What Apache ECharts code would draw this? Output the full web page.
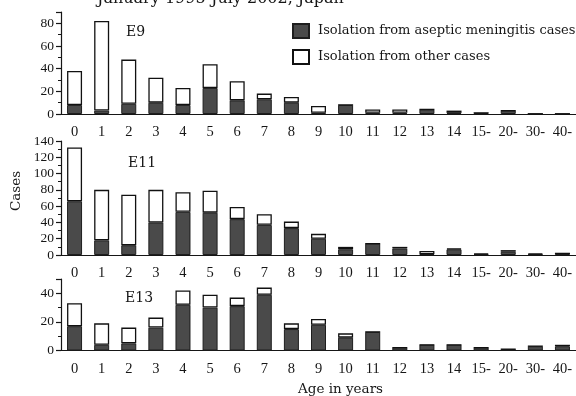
<!DOCTYPE html>
<html>
<head>
<meta charset="utf-8">
<script src="https://cdn.jsdelivr.net/npm/echarts@6/dist/echarts.min.js"></script>
<style>html,body{margin:0;padding:0;background:#fff}#c{width:576px;height:396px}</style>
</head>
<body>
<div id="c"></div>
<script>
const ageCategories = ['0','1','2','3','4','5','6','7','8','9','10','11','12','13','14','15-','20-','30-','40-'];

const e9Aseptic  = [8,3,9,10,8,23,12,13,10,1,8,1,1,4,1,1,3,0,0];
const e9Other    = [30,79,39,22,15,21,17,5,5,6,0,3,3,0,2,0,0,0,0];

const e11Aseptic = [66,18,12,40,53,52,44,37,33,20,7,14,8,1,7,1,4,1,2];
const e11Other   = [66,62,62,40,24,27,15,13,8,6,3,0,2,4,1,1,2,1,0];

const e13Aseptic = [17,4,5,16,32,30,31,39,15,18,9,13,2,4,4,2,1,3,3];
const e13Other   = [16,15,11,7,10,9,6,5,4,4,3,0,0,0,0,0,0,0,1];

const yTicksE9  = {max: 90,  interval: 20};
const yTicksE11 = {max: 140, interval: 20};
const yTicksE13 = {max: 50,  interval: 20};

const panelNames = ['E9', 'E11', 'E13'];
const seriesNames = ['Isolation from aseptic meningitis cases', 'Isolation from other cases'];
const titleText = 'January 1995-July 2002, Japan';

const serif = 'Liberation Serif';
const serif2 = 'DejaVu Serif';
const ink = '#161616';
const darkFill = '#4a4a4a';

const grids = [
  {left: 61, width: 522.5, top: 12, height: 102},
  {left: 61, width: 522.5, top: 141, height: 114},
  {left: 61, width: 522.5, top: 279, height: 71.5}
];

function xAxis(i) {
  return {
    type: 'category', gridIndex: i, data: ageCategories, boundaryGap: true,
    axisLine: {lineStyle: {color: ink, width: 1.2}},
    axisTick: {alignWithLabel: true, length: 5, lineStyle: {color: ink, width: 1.2}},
    axisLabel: {color: ink, fontFamily: serif, fontSize: 14.5, margin: 11, interval: 0}
  };
}
function yAxis(i, t) {
  return {
    type: 'value', gridIndex: i, min: 0, max: t.max, interval: t.interval,
    axisLine: {show: true, lineStyle: {color: ink, width: 1.2}},
    axisTick: {show: true, length: 5, lineStyle: {color: ink, width: 1.2}},
    minorTick: {show: true, splitNumber: 2, length: 3, lineStyle: {color: ink, width: 1}},
    splitLine: {show: false},
    axisLabel: {color: ink, fontFamily: serif, fontSize: 13.5, margin: 7,
      formatter: v => (v % t.interval === 0 ? String(v) : '')}
  };
}
function barPair(i, aseptic, other) {
  return [
    {name: seriesNames[0], type: 'bar', stack: 's' + i, xAxisIndex: i, yAxisIndex: i,
     data: aseptic, barWidth: 15, animation: false,
     itemStyle: {color: darkFill, borderColor: '#1e1e1e', borderWidth: 1}},
    {name: seriesNames[1], type: 'bar', stack: 's' + i, xAxisIndex: i, yAxisIndex: i,
     data: other, barWidth: 15, animation: false,
     itemStyle: {color: '#ffffff', borderColor: '#111', borderWidth: 1.3}}
  ];
}

const chart = echarts.init(document.getElementById('c'), null, {renderer: 'canvas'});
chart.setOption({
  backgroundColor: '#ffffff',
  animation: false,
  grid: grids,
  xAxis: [xAxis(0), xAxis(1), xAxis(2)],
  yAxis: [yAxis(0, yTicksE9), yAxis(1, yTicksE11), yAxis(2, yTicksE13)],
  legend: {
    data: seriesNames, orient: 'vertical', left: 292, top: 23, padding: 0,
    itemWidth: 16, itemHeight: 14, itemGap: 10, icon: 'rect',
    textStyle: {color: ink, fontFamily: serif2, fontSize: 13, padding: [0, 0, 0, 4]}
  },
  series: [].concat(barPair(0, e9Aseptic, e9Other), barPair(1, e11Aseptic, e11Other), barPair(2, e13Aseptic, e13Other)),
  graphic: [
    {type: 'text', left: 97, top: -9, style: {text: titleText, font: '16px "DejaVu Serif"', fill: ink}},
    {type: 'text', left: 126, top: 25, style: {text: panelNames[0], font: '14px "DejaVu Serif"', fill: ink}},
    {type: 'text', left: 128, top: 156, style: {text: panelNames[1], font: '14px "DejaVu Serif"', fill: ink}},
    {type: 'text', left: 125, top: 291, style: {text: panelNames[2], font: '14px "DejaVu Serif"', fill: ink}},
    {type: 'text', x: 16, y: 191, rotation: Math.PI / 2,
     style: {text: 'Cases', font: '13.5px "DejaVu Serif"', fill: ink, align: 'center', verticalAlign: 'middle'}},
    {type: 'text', left: 298, top: 382, style: {text: 'Age in years', font: '13.5px "DejaVu Serif"', fill: ink}}
  ]
});
</script>
</body>
</html>
